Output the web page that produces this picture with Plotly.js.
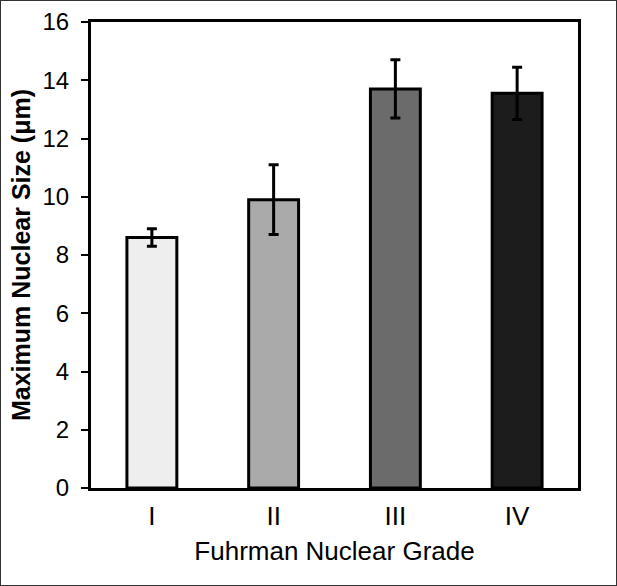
<!DOCTYPE html>
<html>
<head>
<meta charset="utf-8">
<script src="https://cdn.plot.ly/plotly-3.0.1.min.js"></script>
<style>
  body { margin: 0; background: #fff; }
  #chart { width: 617px; height: 586px; border: 1px solid #333; box-sizing: border-box; }
</style>
</head>
<body>
<div id="chart"></div>
<script>
// Fuhrman grade vs maximum nuclear size
var grades = ["I", "II", "III", "IV"];
var sizes = [8.6, 9.9, 13.7, 13.55];
var errs = [0.3, 1.2, 1.0, 0.9];
var barColors = ["#eeeeee", "#aaaaaa", "#6b6b6b", "#1c1c1c"];

var trace = {
  x: grades,
  y: sizes,
  type: "bar",
  width: 0.41,
  marker: { color: barColors, line: { color: "#000", width: 3 } },
  error_y: { type: "data", array: errs, visible: true, color: "#000", thickness: 3, width: 5 },
  hoverinfo: "none"
};

var layout = {
  width: 615,
  height: 584,
  margin: { l: 90, r: 38, t: 21, b: 97 },
  paper_bgcolor: "#fff",
  plot_bgcolor: "#fff",
  showlegend: false,
  font: { family: "Liberation Sans, Arial, sans-serif", color: "#000" },
  xaxis: {
    showline: true, linecolor: "#000", linewidth: 3, mirror: true,
    ticks: "", tickfont: { size: 26 }, ticklabelstandoff: 3,
    title: { text: "Fuhrman Nuclear Grade", font: { size: 26 }, standoff: 12 },
    showgrid: false, zeroline: false
  },
  yaxis: {
    range: [0, 16], dtick: 2,
    showline: true, linecolor: "#000", linewidth: 3, mirror: true,
    ticks: "outside", ticklen: 7, tickwidth: 2, tickcolor: "#000",
    ticklabelstandoff: 7,
    tickfont: { size: 24 },
    title: { text: "<b>Maximum Nuclear Size (μm)</b>", font: { size: 25 }, standoff: 5 },
    showgrid: false, zeroline: false
  }
};

Plotly.newPlot("chart", [trace], layout, { displayModeBar: false, staticPlot: true });
</script>
</body>
</html>
